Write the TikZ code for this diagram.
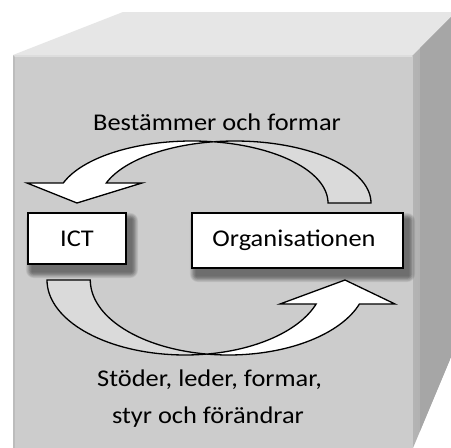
\documentclass[tikz,border=0pt]{standalone}
\usepackage{fontspec}
\setmainfont{Carlito}[FakeStretch=1.1]
\usetikzlibrary{backgrounds,calc}
\definecolor{frontc}{HTML}{CCCCCC}
\definecolor{topc}{HTML}{E6E6E6}
\definecolor{sidec}{HTML}{A6A6A6}
\definecolor{sidel}{HTML}{B4B4B4}
\definecolor{backarr}{HTML}{DADADA}
\tikzset{
  lbl/.style={font=\fontsize{24}{29}\selectfont, inner sep=0pt},
  boxnode/.style={draw=black, line width=1.3pt, fill=white, inner sep=0pt, font=\fontsize{24}{29}\selectfont},
  arrowback/.style={draw=black, line width=1.3pt, fill=backarr, line join=miter},
  arrowfront/.style={draw=black, line width=1.3pt, fill=white, line join=miter},
}
\newcommand\mysoftshadow[1]{%
  \foreach \k in {1,...,8}{%
    \fill[black, opacity=0.07, rounded corners=\k pt]
      ($(#1.south west)+(5-0.8*\k,7+0.8*\k)$) rectangle ($(#1.north east)+(5+0.8*\k,7-0.8*\k)$);
  }%
}
\begin{document}
\begin{tikzpicture}[x=1pt,y=-1pt]
\useasboundingbox (0,0) rectangle (451,448);
\begin{scope}[on background layer]
\fill[white] (0,0) rectangle (451,448);
% cube faces
\fill[topc] (13,55) -- (123,12) -- (451,12) -- (451,17) -- (413,55) -- cycle;
\shade[left color=sidel, right color=sidec] (413,55) -- (451,17) -- (451,357) -- (413,448) -- cycle;
\fill[sidec] (420,48) -- (451,17) -- (451,357) -- (420,431) -- cycle;
\fill[frontc] (13,55) rectangle (413,448);
\draw[white, opacity=0.35, line width=1.5pt] (14,56) -- (412,56);
\draw[black, opacity=0.08, line width=2pt] (14,56) -- (14,448);
\end{scope}

% boxes
\node[boxnode, minimum width=98pt, minimum height=51pt] (ict) at (77,238.5) {ICT\hspace{27pt}};
\node[boxnode, minimum width=211pt, minimum height=55pt] (org) at (297.5,240.5) {\hspace{-7pt}Organisationen};
\begin{scope}[on background layer]
  \mysoftshadow{ict}
  \mysoftshadow{org}
\end{scope}

% top arrow (back part)
\path[arrowback]
  plot[domain=0:99.1, samples=40, variable=\t] ({235+136*cos(\t)},{203-62*sin(\t)})
  -- plot[domain=80.9:0, samples=40, variable=\t] ({192+136*cos(\t)},{203-62*sin(\t)})
  -- cycle;
% top arrow (front part with head)
\path[arrowfront]
  plot[domain=80.9:161.2, samples=40, variable=\t] ({192+136*cos(\t)},{203-62*sin(\t)})
  -- (27,183) -- (77,203) -- (142,183)
  -- plot[domain=161.2:99.1, samples=40, variable=\t] ({235+136*cos(\t)},{203-62*sin(\t)})
  -- cycle;

% bottom arrow (back part)
\path[arrowback]
  plot[domain=180:81, samples=40, variable=\t] ({185.2+138.2*cos(\t)},{280+75*sin(\t)})
  -- plot[domain=99:180, samples=40, variable=\t] ({228.5+138.2*cos(\t)},{280+75*sin(\t)})
  -- cycle;
% bottom arrow (front part with head)
\path[arrowfront]
  plot[domain=81:18.66, samples=40, variable=\t] ({185.2+138.2*cos(\t)},{280+75*sin(\t)})
  -- (280,304) -- (345,280) -- (395,304)
  -- plot[domain=18.66:99, samples=40, variable=\t] ({228.5+138.2*cos(\t)},{280+75*sin(\t)})
  -- cycle;

% labels
\node[lbl, anchor=base] (toplbl) at (217,130) {Bestämmer och formar};
\node[lbl, anchor=base] (botlbla) at (209.5,386) {Stöder, leder, formar,};
\node[lbl, anchor=base] (botlblb) at (208,423) {styr och förändrar};
\end{tikzpicture}
\end{document}
